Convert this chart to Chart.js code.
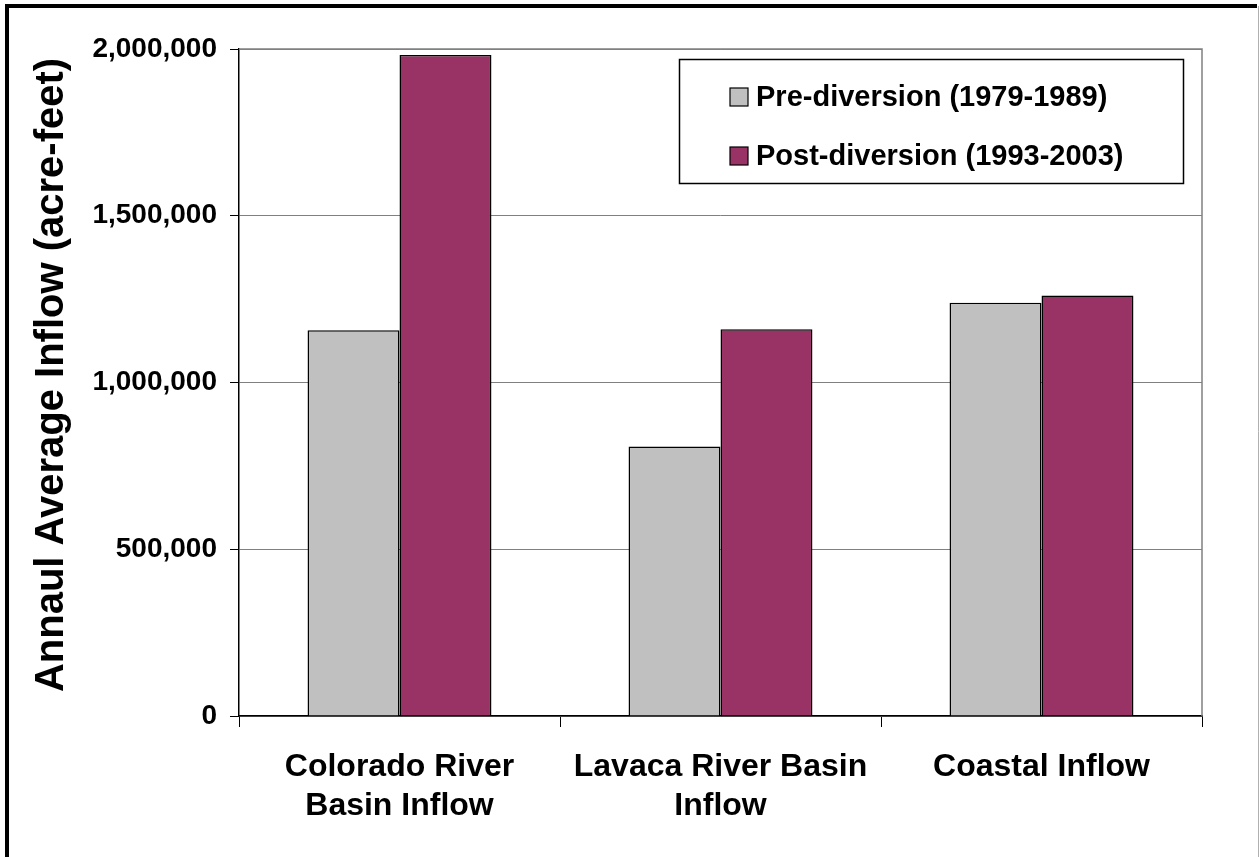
<!DOCTYPE html>
<html>
<head>
<meta charset="utf-8">
<title>Annual Average Inflow</title>
<script src="https://cdn.jsdelivr.net/npm/chart.js@4/dist/chart.umd.min.js"></script>
<style>
  html, body { margin: 0; padding: 0; background: #ffffff; }
  #wrap { position: relative; width: 1259px; height: 857px; }
  canvas { display: block; }
</style>
</head>
<body>
<div id="wrap"><canvas id="chart" width="1259" height="857"></canvas></div>
<script>
// Categories (two-line labels) and series values in acre-feet
const categories = [
  ["Colorado River", "Basin Inflow"],
  ["Lavaca River Basin", "Inflow"],
  "Coastal Inflow"
];
const seriesNames = ["Pre-diversion (1979-1989)", "Post-diversion (1993-2003)"];
const preDiversion = [1157000, 808000, 1239000];
const postDiversion = [1982000, 1160000, 1261000];
const seriesColors = ["#C0C0C0", "#993366"];
const yTicks = [0, 500000, 1000000, 1500000, 2000000];
const yTitle = "Annaul Average Inflow (acre-feet)";

const FONT = "'Liberation Sans', Arial, Helvetica, sans-serif";

// Outer frame, plot-area border, vertical axis title and the boxed legend
const decorations = {
  id: "decorations",
  afterDraw(chart) {
    const ctx = chart.ctx;
    const a = chart.chartArea;
    ctx.save();
    // plot area border on top and right (grey)
    ctx.strokeStyle = "#808080";
    ctx.lineWidth = 1.5;
    ctx.beginPath();
    ctx.moveTo(a.left, a.top);
    ctx.lineTo(a.right, a.top);
    ctx.lineTo(a.right, a.bottom);
    ctx.stroke();

    // outer frame
    ctx.strokeStyle = "#000000";
    ctx.lineWidth = 4;
    ctx.beginPath();
    ctx.moveTo(7, 857);
    ctx.lineTo(7, 6);
    ctx.lineTo(1257, 6);
    ctx.stroke();
    ctx.strokeStyle = "#b0b0b0";
    ctx.lineWidth = 1;
    ctx.beginPath();
    ctx.moveTo(1258.5, 6);
    ctx.lineTo(1258.5, 857);
    ctx.stroke();

    // vertical axis title
    ctx.save();
    ctx.translate(52, 375);
    ctx.rotate(-Math.PI / 2);
    ctx.font = "bold 40px " + FONT;
    ctx.fillStyle = "#000000";
    ctx.textAlign = "center";
    ctx.textBaseline = "middle";
    ctx.fillText(yTitle, 0, 0);
    ctx.restore();

    // legend box
    const bx = 679.5, by = 59.5, bw = 504, bh = 124;
    ctx.fillStyle = "#ffffff";
    ctx.fillRect(bx, by, bw, bh);
    ctx.strokeStyle = "#000000";
    ctx.lineWidth = 1.5;
    ctx.strokeRect(bx, by, bw, bh);
    ctx.font = "bold 29px " + FONT;
    ctx.textBaseline = "middle";
    ctx.textAlign = "left";
    const rows = [97, 156];
    chart.data.datasets.forEach((ds, i) => {
      const cy = rows[i];
      ctx.fillStyle = ds.backgroundColor;
      ctx.fillRect(730, cy - 9, 18, 18);
      ctx.strokeStyle = "#000000";
      ctx.lineWidth = 1.2;
      ctx.strokeRect(730, cy - 9, 18, 18);
      ctx.fillStyle = "#000000";
      ctx.fillText(ds.label, 756, cy + 1);
    });
    ctx.restore();
  }
};

new Chart(document.getElementById("chart"), {
  type: "bar",
  data: {
    labels: categories,
    datasets: [
      {
        label: seriesNames[0],
        data: preDiversion,
        backgroundColor: seriesColors[0],
        borderColor: "#000000",
        borderWidth: 1.5
      },
      {
        label: seriesNames[1],
        data: postDiversion,
        backgroundColor: seriesColors[1],
        borderColor: "#000000",
        borderWidth: 1.5
      }
    ]
  },
  options: {
    responsive: false,
    animation: false,
    devicePixelRatio: 1,
    layout: { padding: { left: 0, top: 49, right: 57, bottom: 0 } },
    datasets: {
      bar: { categoryPercentage: 0.573, barPercentage: 1.0 }
    },
    plugins: {
      legend: { display: false },
      tooltip: { enabled: false }
    },
    scales: {
      x: {
        offset: true,
        grid: {
          offset: true,
          drawOnChartArea: false,
          drawTicks: true,
          tickLength: 11,
          tickColor: "#000000",
          tickWidth: 1
        },
        border: { display: true, color: "#000000", width: 1.5 },
        ticks: {
          color: "#000000",
          padding: 21,
          maxRotation: 0,
          autoSkip: false,
          font: { family: FONT, size: 32, weight: "bold", lineHeight: 1.22 }
        },
        afterFit(scale) { scale.height = 141; }
      },
      y: {
        min: 0,
        max: 2000000,
        afterBuildTicks(scale) {
          scale.ticks = yTicks.map(v => ({ value: v }));
        },
        grid: {
          color: "#808080",
          lineWidth: 1,
          drawTicks: true,
          tickLength: 9,
          tickColor: "#000000",
          tickWidth: 1
        },
        border: { display: true, color: "#000000", width: 1.5 },
        ticks: {
          color: "#000000",
          padding: 13,
          font: { family: FONT, size: 28, weight: "bold" },
          callback: v => v.toLocaleString("en-US")
        },
        afterFit(scale) { scale.width = 239; }
      }
    }
  },
  plugins: [decorations]
});
</script>
</body>
</html>
